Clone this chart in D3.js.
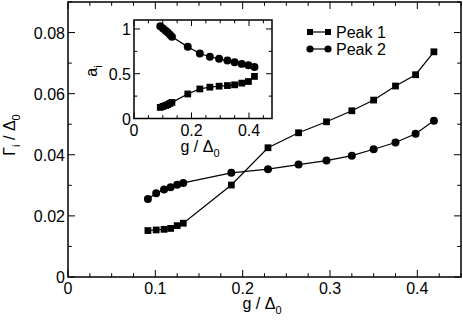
<!DOCTYPE html>
<html>
<head>
<meta charset="utf-8">
<script src="https://cdn.jsdelivr.net/npm/d3@7"></script>
<style>
  body { margin: 0; background: #fff; }
  svg { display: block; font-family: "Liberation Sans", Arial, sans-serif; }
</style>
</head>
<body>
<svg id="chart" width="463" height="323"></svg>
<script>
// coupling values g / Delta0 (shared by main plot and inset)
const gValues = [0.0915, 0.101, 0.110, 0.1175, 0.125, 0.132, 0.187, 0.229, 0.264, 0.296, 0.325, 0.350, 0.375, 0.398, 0.419];
// widths Gamma_i / Delta0
const peak1Gamma = [0.0152, 0.0154, 0.0156, 0.0159, 0.0168, 0.0176, 0.0301, 0.0423, 0.0472, 0.0508, 0.0544, 0.0579, 0.0625, 0.0662, 0.0737];
const peak2Gamma = [0.0255, 0.0274, 0.0286, 0.0294, 0.0302, 0.0308, 0.0341, 0.0353, 0.0368, 0.0381, 0.0397, 0.0418, 0.0440, 0.0469, 0.0511];
// weights a_i (inset)
const peak1Weight = [0.124, 0.135, 0.145, 0.155, 0.168, 0.180, 0.274, 0.330, 0.350, 0.361, 0.368, 0.376, 0.395, 0.413, 0.470];
const peak2Weight = [1.03, 1.005, 0.98, 0.96, 0.935, 0.912, 0.800, 0.726, 0.690, 0.666, 0.647, 0.628, 0.610, 0.594, 0.576];

const seriesNames = ["Peak 1", "Peak 2"];
const mainXTicks = [0, 0.1, 0.2, 0.3, 0.4];
const mainYTicks = [0, 0.02, 0.04, 0.06, 0.08];
const insetXTicks = [0, 0.2, 0.4];
const insetYTicks = [0, 0.5, 1];

const svg = d3.select("#chart");
const fontSize = 16;

// draw a framed panel with inward ticks on all 4 sides
const drawFrame = (g, x, y, xMajor, xMinorStep, yMajor, yMinorStep, xFmt, yFmt, tickLen) => {
  const [x0, x1] = x.range();
  const [y0, y1] = y.range(); // y0 bottom
  const xd = x.domain(), yd = y.domain();
  const xMinor = d3.range(0, xd[1] + 1e-9, xMinorStep);
  const yMinor = d3.range(0, yd[1] + 1e-9, yMinorStep);
  const ticks = g.append("g").attr("stroke", "#000").attr("stroke-width", 1);

  xMinor.forEach((v) => {
    const major = xMajor.some((m) => Math.abs(m - v) < 1e-9);
    const L = major ? tickLen : tickLen * 0.55;
    ticks.append("line").attr("x1", x(v)).attr("x2", x(v)).attr("y1", y0).attr("y2", y0 - L);
    ticks.append("line").attr("x1", x(v)).attr("x2", x(v)).attr("y1", y1).attr("y2", y1 + L);
  });
  yMinor.forEach((v) => {
    const major = yMajor.some((m) => Math.abs(m - v) < 1e-9);
    const L = major ? tickLen : tickLen * 0.55;
    ticks.append("line").attr("y1", y(v)).attr("y2", y(v)).attr("x1", x0).attr("x2", x0 + L);
    ticks.append("line").attr("y1", y(v)).attr("y2", y(v)).attr("x1", x1).attr("x2", x1 - L);
  });

  g.append("rect")
    .attr("x", x0).attr("y", y1)
    .attr("width", x1 - x0).attr("height", y0 - y1)
    .attr("fill", "none").attr("stroke", "#000").attr("stroke-width", 1.5);

  g.append("g").selectAll("text").data(xMajor).enter().append("text")
    .attr("x", (d) => x(d)).attr("y", y0 + 17)
    .attr("text-anchor", "middle").attr("font-size", fontSize)
    .text(xFmt);
  g.append("g").selectAll("text").data(yMajor).enter().append("text")
    .attr("x", x0 - 3).attr("y", (d) => y(d) + 6)
    .attr("text-anchor", "end").attr("font-size", fontSize)
    .text(yFmt);
};

const drawSeries = (g, x, y, xs, ys, shape) => {
  const pts = xs.map((v, i) => [x(v), y(ys[i])]);
  g.append("path")
    .attr("d", d3.line()(pts))
    .attr("fill", "none").attr("stroke", "#000").attr("stroke-width", 1.2);
  const sym = d3.symbol().type(shape === "square" ? d3.symbolSquare : d3.symbolCircle)
    .size(shape === "square" ? 46 : 50);
  g.append("g").selectAll("path").data(pts).enter().append("path")
    .attr("transform", (d) => "translate(" + d[0] + "," + d[1] + ")")
    .attr("d", sym).attr("fill", "#000");
};

const fmt = (d) => d === 0 ? "0" : String(d);

// ---- main panel
const x = d3.scaleLinear().domain([0, 0.45]).range([68, 461]);
const y = d3.scaleLinear().domain([0, 0.09]).range([277, 2]);
const main = svg.append("g");
drawFrame(main, x, y, mainXTicks, 0.025, mainYTicks, 0.01, fmt, fmt, 7);
drawSeries(main, x, y, gValues, peak1Gamma, "square");
drawSeries(main, x, y, gValues, peak2Gamma, "circle");

// axis titles
const xt = main.append("text").attr("x", 262).attr("y", 309)
  .attr("text-anchor", "middle").attr("font-size", fontSize);
xt.append("tspan").text("g / Δ");
xt.append("tspan").attr("dy", 5).attr("font-size", 11).text("0");

const yt = main.append("text")
  .attr("transform", "translate(15,135) rotate(-90)")
  .attr("text-anchor", "middle").attr("font-size", fontSize);
yt.append("tspan").text("Γ");
yt.append("tspan").attr("dy", 5).attr("font-size", 11).text("i");
yt.append("tspan").attr("dy", -5).text(" / Δ");
yt.append("tspan").attr("dy", 5).attr("font-size", 11).text("0");

// legend
const legend = main.append("g");
["square", "circle"].forEach((shape, i) => {
  const ly = 32 + i * 17;
  legend.append("line").attr("x1", 310).attr("x2", 328).attr("y1", ly).attr("y2", ly)
    .attr("stroke", "#000").attr("stroke-width", 1.2);
  const sym = d3.symbol().type(shape === "square" ? d3.symbolSquare : d3.symbolCircle)
    .size(shape === "square" ? 36 : 40);
  [310, 328].forEach((lx) => {
    legend.append("path").attr("transform", "translate(" + lx + "," + ly + ")")
      .attr("d", sym).attr("fill", "#000");
  });
  legend.append("text").attr("x", 336).attr("y", ly + 6)
    .attr("font-size", fontSize).text(seriesNames[i]);
});

// ---- inset panel
const ix = d3.scaleLinear().domain([0, 0.48]).range([134, 272]);
const iy = d3.scaleLinear().domain([0, 1.1]).range([118.5, 20]);
const inset = svg.append("g");
inset.append("rect").attr("x", 134).attr("y", 20).attr("width", 138).attr("height", 98.5).attr("fill", "#fff");
drawFrame(inset, ix, iy, insetXTicks, 0.05, insetYTicks, 0.25, fmt, fmt, 6);
drawSeries(inset, ix, iy, gValues, peak1Weight, "square");
drawSeries(inset, ix, iy, gValues, peak2Weight, "circle");

const ixt = inset.append("text").attr("x", 200).attr("y", 152)
  .attr("text-anchor", "middle").attr("font-size", fontSize);
ixt.append("tspan").text("g / Δ");
ixt.append("tspan").attr("dy", 5).attr("font-size", 11).text("0");

const iyt = inset.append("text")
  .attr("transform", "translate(97,71) rotate(-90)")
  .attr("text-anchor", "middle").attr("font-size", fontSize);
iyt.append("tspan").text("a");
iyt.append("tspan").attr("dy", 5).attr("font-size", 11).text("i");
</script>
</body>
</html>
